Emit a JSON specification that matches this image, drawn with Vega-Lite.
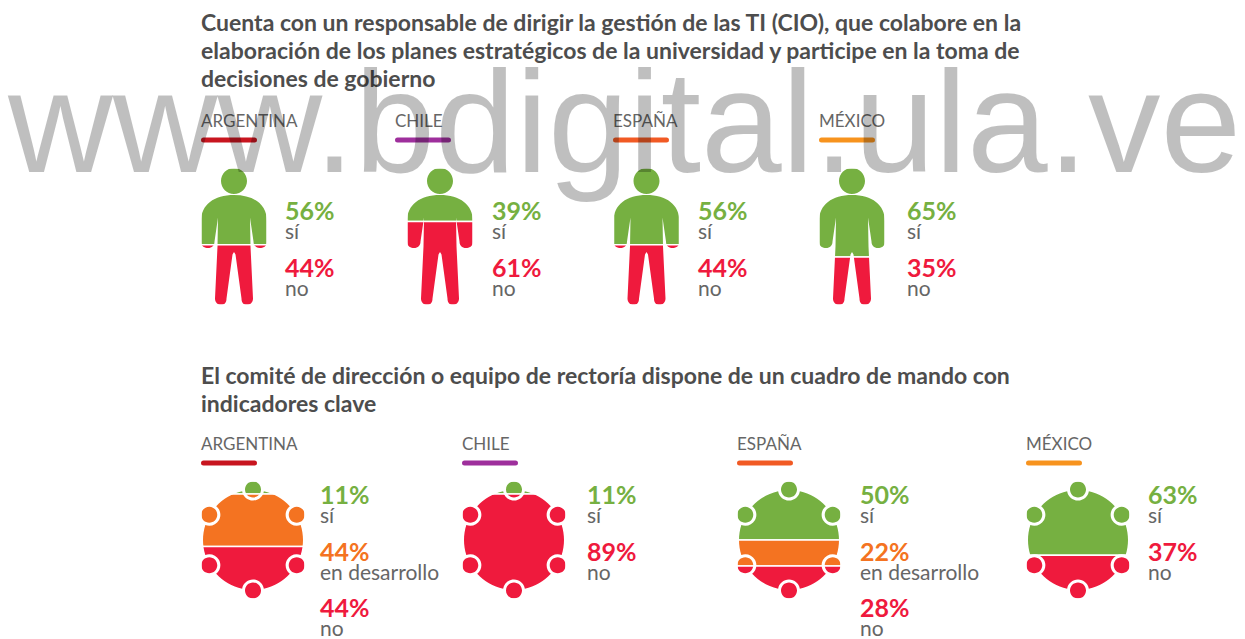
{
"$schema":"https://vega.github.io/schema/vega-lite/v6.json",
"padding":{"left":8,"top":13,"right":0,"bottom":0},
"background":"white",
"title":{"text":"www.bdigital.ula.ve","font":"Liberation Sans","fontSize":145,"fontWeight":"normal","color":"rgba(0,0,0,0.25)","anchor":"start","frame":"group","dx":-193,"dy":189,"offset":0},
"config":{"view":{"stroke":null},"font":"Lato","title":{"font":"Lato"},"concat":{"spacing":0}},
"datasets":{"d":[
{"question":"q1","country":"ARGENTINA","answer":"sí","rank":1,"value":0.56},
{"question":"q1","country":"ARGENTINA","answer":"no","rank":3,"value":0.44},
{"question":"q1","country":"CHILE","answer":"sí","rank":1,"value":0.39},
{"question":"q1","country":"CHILE","answer":"no","rank":3,"value":0.61},
{"question":"q1","country":"ESPAÑA","answer":"sí","rank":1,"value":0.56},
{"question":"q1","country":"ESPAÑA","answer":"no","rank":3,"value":0.44},
{"question":"q1","country":"MÉXICO","answer":"sí","rank":1,"value":0.65},
{"question":"q1","country":"MÉXICO","answer":"no","rank":3,"value":0.35},
{"question":"q2","country":"ARGENTINA","answer":"sí","rank":1,"value":0.11},
{"question":"q2","country":"ARGENTINA","answer":"en desarrollo","rank":2,"value":0.44},
{"question":"q2","country":"ARGENTINA","answer":"no","rank":3,"value":0.44},
{"question":"q2","country":"CHILE","answer":"sí","rank":1,"value":0.11},
{"question":"q2","country":"CHILE","answer":"no","rank":3,"value":0.89},
{"question":"q2","country":"ESPAÑA","answer":"sí","rank":1,"value":0.50},
{"question":"q2","country":"ESPAÑA","answer":"en desarrollo","rank":2,"value":0.22},
{"question":"q2","country":"ESPAÑA","answer":"no","rank":3,"value":0.28},
{"question":"q2","country":"MÉXICO","answer":"sí","rank":1,"value":0.63},
{"question":"q2","country":"MÉXICO","answer":"no","rank":3,"value":0.37}
]},
"data":{"name":"d"},
"spacing":59,
"vconcat":[
{"title":{"text":["Cuenta con un responsable de dirigir la gestión de las TI (CIO), que colabore en la","elaboración de los planes estratégicos de la universidad y participe en la toma de","decisiones de gobierno"],"font":"Lato","fontSize":23,"fontWeight":"bold","color":"#4d4d4d","lineHeight":28,"anchor":"start","frame":"group","offset":14},
"spacing":0,
"hconcat":[
{"width":194,"height":200,"transform":[{"filter":"datum.question=='q1'&&datum.country=='ARGENTINA'"}],"resolve":{"scale":{"x":"independent","y":"independent"}},"layer":[
{"layer":[
{"mark":{"type":"bar","size":66,"stroke":"white","strokeWidth":1.5},"encoding":{"x":{"datum":"figure","type":"nominal","axis":null,"scale":{"type":"point","domain":["figure"],"range":[33,33]}},"y":{"field":"value","type":"quantitative","stack":"normalize","axis":null,"scale":{"domain":[0,1],"range":[62,199]}},"order":{"field":"rank"},"color":{"field":"answer","legend":null,"scale":{"domain":["sí","en desarrollo","no"],"range":["#76b041","#f47321","#ef1a3d"]}}}},
{"transform":[{"filter":"datum.rank==1"}],"mark":{"type":"point","filled":true,"opacity":1,"size":4,"color":"white","strokeWidth":0,"shape":"M-33.5,-70H33.5V70H-33.5Z M-13,-55.5A13,13 0 1 0 13,-55.5A13,13 0 1 0 -13,-55.5Z M0,-41.5C-20,-41.5 -33,-32 -33,-15L-33,5C-33,10 -29,11.5 -26,11.5C-22,11.5 -19.5,9 -19.5,5L-16,-19L-16.5,10L-19,62C-19,66 -16,68.5 -13,68.5C-9.5,68.5 -7.5,66 -7.5,62L-1.5,18L0,15.5L1.5,18L7.5,62C7.5,66 9.5,68.5 13,68.5C16,68.5 19,66 19,62L16.5,10L16,-19L19.5,5C19.5,9 22,11.5 26,11.5C29,11.5 33,10 33,5L33,-15C33,-32 20,-41.5 0,-41.5Z"},"encoding":{"x":{"datum":"figure","type":"nominal"},"y":{"datum":0.5,"type":"quantitative"}}}
]},
{"layer":[
{"mark":{"type":"text","align":"left","fontSize":25,"fontWeight":"bold"},"encoding":{"x":{"datum":"label","type":"nominal","axis":null,"scale":{"type":"point","domain":["label"],"range":[84,84]}},"y":{"field":"answer","type":"nominal","axis":null,"scale":{"type":"point","domain":["sí","no"],"range":[106,163],"padding":0}},"text":{"field":"value","format":".0%"},"color":{"field":"answer","legend":null,"scale":{"domain":["sí","en desarrollo","no"],"range":["#76b041","#f47321","#ef1a3d"]}}}},
{"mark":{"type":"text","align":"left","fontSize":21,"dy":21,"color":"#666666"},"encoding":{"x":{"datum":"label","type":"nominal"},"y":{"field":"answer","type":"nominal"},"text":{"field":"answer"}}}
]},
{"transform":[{"filter":"datum.rank==1"}],"layer":[
{"mark":{"type":"text","align":"left","fontSize":17,"color":"#666666"},"encoding":{"x":{"datum":0,"type":"quantitative","axis":null,"scale":{"domain":[0,1],"range":[0,56]}},"y":{"datum":"header","type":"nominal","axis":null,"scale":{"type":"point","domain":["header","rule"],"range":[16,34],"padding":0}},"text":{"field":"country"}}},
{"mark":{"type":"rule","strokeWidth":5,"strokeCap":"round","color":"#c8151f"},"encoding":{"x":{"datum":0.045,"type":"quantitative"},"x2":{"datum":0.955},"y":{"datum":"rule","type":"nominal"}}}
]}
]},
{"width":217,"height":200,"transform":[{"filter":"datum.question=='q1'&&datum.country=='CHILE'"}],"resolve":{"scale":{"x":"independent","y":"independent"}},"layer":[
{"layer":[
{"mark":{"type":"bar","size":66,"stroke":"white","strokeWidth":1.5},"encoding":{"x":{"datum":"figure","type":"nominal","axis":null,"scale":{"type":"point","domain":["figure"],"range":[45,45]}},"y":{"field":"value","type":"quantitative","stack":"normalize","axis":null,"scale":{"domain":[0,1],"range":[62,199]}},"order":{"field":"rank"},"color":{"field":"answer","legend":null,"scale":{"domain":["sí","en desarrollo","no"],"range":["#76b041","#f47321","#ef1a3d"]}}}},
{"transform":[{"filter":"datum.rank==1"}],"mark":{"type":"point","filled":true,"opacity":1,"size":4,"color":"white","strokeWidth":0,"shape":"M-33.5,-70H33.5V70H-33.5Z M-13,-55.5A13,13 0 1 0 13,-55.5A13,13 0 1 0 -13,-55.5Z M0,-41.5C-20,-41.5 -33,-32 -33,-15L-33,5C-33,10 -29,11.5 -26,11.5C-22,11.5 -19.5,9 -19.5,5L-16,-19L-16.5,10L-19,62C-19,66 -16,68.5 -13,68.5C-9.5,68.5 -7.5,66 -7.5,62L-1.5,18L0,15.5L1.5,18L7.5,62C7.5,66 9.5,68.5 13,68.5C16,68.5 19,66 19,62L16.5,10L16,-19L19.5,5C19.5,9 22,11.5 26,11.5C29,11.5 33,10 33,5L33,-15C33,-32 20,-41.5 0,-41.5Z"},"encoding":{"x":{"datum":"figure","type":"nominal"},"y":{"datum":0.5,"type":"quantitative"}}}
]},
{"layer":[
{"mark":{"type":"text","align":"left","fontSize":25,"fontWeight":"bold"},"encoding":{"x":{"datum":"label","type":"nominal","axis":null,"scale":{"type":"point","domain":["label"],"range":[97,97]}},"y":{"field":"answer","type":"nominal","axis":null,"scale":{"type":"point","domain":["sí","no"],"range":[106,163],"padding":0}},"text":{"field":"value","format":".0%"},"color":{"field":"answer","legend":null,"scale":{"domain":["sí","en desarrollo","no"],"range":["#76b041","#f47321","#ef1a3d"]}}}},
{"mark":{"type":"text","align":"left","fontSize":21,"dy":21,"color":"#666666"},"encoding":{"x":{"datum":"label","type":"nominal"},"y":{"field":"answer","type":"nominal"},"text":{"field":"answer"}}}
]},
{"transform":[{"filter":"datum.rank==1"}],"layer":[
{"mark":{"type":"text","align":"left","fontSize":17,"color":"#666666"},"encoding":{"x":{"datum":0,"type":"quantitative","axis":null,"scale":{"domain":[0,1],"range":[0,56]}},"y":{"datum":"header","type":"nominal","axis":null,"scale":{"type":"point","domain":["header","rule"],"range":[16,34],"padding":0}},"text":{"field":"country"}}},
{"mark":{"type":"rule","strokeWidth":5,"strokeCap":"round","color":"#9e2f9c"},"encoding":{"x":{"datum":0.045,"type":"quantitative"},"x2":{"datum":0.955},"y":{"datum":"rule","type":"nominal"}}}
]}
]},
{"width":205,"height":200,"transform":[{"filter":"datum.question=='q1'&&datum.country=='ESPAÑA'"}],"resolve":{"scale":{"x":"independent","y":"independent"}},"layer":[
{"layer":[
{"mark":{"type":"bar","size":66,"stroke":"white","strokeWidth":1.5},"encoding":{"x":{"datum":"figure","type":"nominal","axis":null,"scale":{"type":"point","domain":["figure"],"range":[33.5,33.5]}},"y":{"field":"value","type":"quantitative","stack":"normalize","axis":null,"scale":{"domain":[0,1],"range":[62,199]}},"order":{"field":"rank"},"color":{"field":"answer","legend":null,"scale":{"domain":["sí","en desarrollo","no"],"range":["#76b041","#f47321","#ef1a3d"]}}}},
{"transform":[{"filter":"datum.rank==1"}],"mark":{"type":"point","filled":true,"opacity":1,"size":4,"color":"white","strokeWidth":0,"shape":"M-33.5,-70H33.5V70H-33.5Z M-13,-55.5A13,13 0 1 0 13,-55.5A13,13 0 1 0 -13,-55.5Z M0,-41.5C-20,-41.5 -33,-32 -33,-15L-33,5C-33,10 -29,11.5 -26,11.5C-22,11.5 -19.5,9 -19.5,5L-16,-19L-16.5,10L-19,62C-19,66 -16,68.5 -13,68.5C-9.5,68.5 -7.5,66 -7.5,62L-1.5,18L0,15.5L1.5,18L7.5,62C7.5,66 9.5,68.5 13,68.5C16,68.5 19,66 19,62L16.5,10L16,-19L19.5,5C19.5,9 22,11.5 26,11.5C29,11.5 33,10 33,5L33,-15C33,-32 20,-41.5 0,-41.5Z"},"encoding":{"x":{"datum":"figure","type":"nominal"},"y":{"datum":0.5,"type":"quantitative"}}}
]},
{"layer":[
{"mark":{"type":"text","align":"left","fontSize":25,"fontWeight":"bold"},"encoding":{"x":{"datum":"label","type":"nominal","axis":null,"scale":{"type":"point","domain":["label"],"range":[85,85]}},"y":{"field":"answer","type":"nominal","axis":null,"scale":{"type":"point","domain":["sí","no"],"range":[106,163],"padding":0}},"text":{"field":"value","format":".0%"},"color":{"field":"answer","legend":null,"scale":{"domain":["sí","en desarrollo","no"],"range":["#76b041","#f47321","#ef1a3d"]}}}},
{"mark":{"type":"text","align":"left","fontSize":21,"dy":21,"color":"#666666"},"encoding":{"x":{"datum":"label","type":"nominal"},"y":{"field":"answer","type":"nominal"},"text":{"field":"answer"}}}
]},
{"transform":[{"filter":"datum.rank==1"}],"layer":[
{"mark":{"type":"text","align":"left","fontSize":17,"color":"#666666"},"encoding":{"x":{"datum":0,"type":"quantitative","axis":null,"scale":{"domain":[0,1],"range":[0,56]}},"y":{"datum":"header","type":"nominal","axis":null,"scale":{"type":"point","domain":["header","rule"],"range":[16,34],"padding":0}},"text":{"field":"country"}}},
{"mark":{"type":"rule","strokeWidth":5,"strokeCap":"round","color":"#f15a24"},"encoding":{"x":{"datum":0.045,"type":"quantitative"},"x2":{"datum":0.955},"y":{"datum":"rule","type":"nominal"}}}
]}
]},
{"width":170,"height":200,"transform":[{"filter":"datum.question=='q1'&&datum.country=='MÉXICO'"}],"resolve":{"scale":{"x":"independent","y":"independent"}},"layer":[
{"layer":[
{"mark":{"type":"bar","size":66,"stroke":"white","strokeWidth":1.5},"encoding":{"x":{"datum":"figure","type":"nominal","axis":null,"scale":{"type":"point","domain":["figure"],"range":[33,33]}},"y":{"field":"value","type":"quantitative","stack":"normalize","axis":null,"scale":{"domain":[0,1],"range":[62,199]}},"order":{"field":"rank"},"color":{"field":"answer","legend":null,"scale":{"domain":["sí","en desarrollo","no"],"range":["#76b041","#f47321","#ef1a3d"]}}}},
{"transform":[{"filter":"datum.rank==1"}],"mark":{"type":"point","filled":true,"opacity":1,"size":4,"color":"white","strokeWidth":0,"shape":"M-33.5,-70H33.5V70H-33.5Z M-13,-55.5A13,13 0 1 0 13,-55.5A13,13 0 1 0 -13,-55.5Z M0,-41.5C-20,-41.5 -33,-32 -33,-15L-33,5C-33,10 -29,11.5 -26,11.5C-22,11.5 -19.5,9 -19.5,5L-16,-19L-16.5,10L-19,62C-19,66 -16,68.5 -13,68.5C-9.5,68.5 -7.5,66 -7.5,62L-1.5,18L0,15.5L1.5,18L7.5,62C7.5,66 9.5,68.5 13,68.5C16,68.5 19,66 19,62L16.5,10L16,-19L19.5,5C19.5,9 22,11.5 26,11.5C29,11.5 33,10 33,5L33,-15C33,-32 20,-41.5 0,-41.5Z"},"encoding":{"x":{"datum":"figure","type":"nominal"},"y":{"datum":0.5,"type":"quantitative"}}}
]},
{"layer":[
{"mark":{"type":"text","align":"left","fontSize":25,"fontWeight":"bold"},"encoding":{"x":{"datum":"label","type":"nominal","axis":null,"scale":{"type":"point","domain":["label"],"range":[88,88]}},"y":{"field":"answer","type":"nominal","axis":null,"scale":{"type":"point","domain":["sí","no"],"range":[106,163],"padding":0}},"text":{"field":"value","format":".0%"},"color":{"field":"answer","legend":null,"scale":{"domain":["sí","en desarrollo","no"],"range":["#76b041","#f47321","#ef1a3d"]}}}},
{"mark":{"type":"text","align":"left","fontSize":21,"dy":21,"color":"#666666"},"encoding":{"x":{"datum":"label","type":"nominal"},"y":{"field":"answer","type":"nominal"},"text":{"field":"answer"}}}
]},
{"transform":[{"filter":"datum.rank==1"}],"layer":[
{"mark":{"type":"text","align":"left","fontSize":17,"color":"#666666"},"encoding":{"x":{"datum":0,"type":"quantitative","axis":null,"scale":{"domain":[0,1],"range":[0,56]}},"y":{"datum":"header","type":"nominal","axis":null,"scale":{"type":"point","domain":["header","rule"],"range":[16,34],"padding":0}},"text":{"field":"country"}}},
{"mark":{"type":"rule","strokeWidth":5,"strokeCap":"round","color":"#f7931e"},"encoding":{"x":{"datum":0.045,"type":"quantitative"},"x2":{"datum":0.955},"y":{"datum":"rule","type":"nominal"}}}
]}
]}
]},
{"title":{"text":["El comité de dirección o equipo de rectoría dispone de un cuadro de mando con","indicadores clave"],"font":"Lato","fontSize":23,"fontWeight":"bold","color":"#4d4d4d","lineHeight":28,"anchor":"start","frame":"group","offset":14},
"spacing":0,
"hconcat":[
{"width":260,"height":204,"transform":[{"filter":"datum.question=='q2'&&datum.country=='ARGENTINA'"}],"resolve":{"scale":{"x":"independent","y":"independent"}},"layer":[
{"layer":[
{"mark":{"type":"bar","size":104,"stroke":"white","strokeWidth":1.5},"encoding":{"x":{"datum":"figure","type":"nominal","axis":null,"scale":{"type":"point","domain":["figure"],"range":[52,52]}},"y":{"field":"value","type":"quantitative","stack":"normalize","axis":null,"scale":{"domain":[0,1],"range":[50,168]}},"order":{"field":"rank"},"color":{"field":"answer","legend":null,"scale":{"domain":["sí","en desarrollo","no"],"range":["#76b041","#f47321","#ef1a3d"]}}}},
{"transform":[{"filter":"datum.rank==1"}],"mark":{"type":"point","filled":true,"opacity":1,"size":4,"color":"white","strokeWidth":0,"shape":"M-52.5,-61H52.5V61H-52.5Z M-10.87,-48.8A50,50 0 0 0 -36.81,-33.83A11,11 0 0 1 -47.7,-14.98A50,50 0 0 0 -47.7,14.98A11,11 0 0 1 -36.81,33.83A50,50 0 0 0 -10.87,48.8A11,11 0 0 1 10.87,48.8A50,50 0 0 0 36.81,33.83A11,11 0 0 1 47.7,14.98A50,50 0 0 0 47.7,-14.98A11,11 0 0 1 36.81,-33.83A50,50 0 0 0 10.87,-48.8A11,11 0 0 1 -10.87,-48.8Z M-8,-50.5A8,8 0 1 0 8,-50.5A8,8 0 1 0 -8,-50.5Z M-51.73,-25.25A8,8 0 1 0 -35.73,-25.25A8,8 0 1 0 -51.73,-25.25Z M-51.73,25.25A8,8 0 1 0 -35.73,25.25A8,8 0 1 0 -51.73,25.25Z M-8,50.5A8,8 0 1 0 8,50.5A8,8 0 1 0 -8,50.5Z M35.73,25.25A8,8 0 1 0 51.73,25.25A8,8 0 1 0 35.73,25.25Z M35.73,-25.25A8,8 0 1 0 51.73,-25.25A8,8 0 1 0 35.73,-25.25Z"},"encoding":{"x":{"datum":"figure","type":"nominal"},"y":{"datum":0.5,"type":"quantitative"}}}
]},
{"layer":[
{"mark":{"type":"text","align":"left","fontSize":25,"fontWeight":"bold"},"encoding":{"x":{"datum":"label","type":"nominal","axis":null,"scale":{"type":"point","domain":["label"],"range":[119,119]}},"y":{"field":"answer","type":"nominal","axis":null,"scale":{"type":"point","domain":["sí","en desarrollo","no"],"range":[65,178],"padding":0}},"text":{"field":"value","format":".0%"},"color":{"field":"answer","legend":null,"scale":{"domain":["sí","en desarrollo","no"],"range":["#76b041","#f47321","#ef1a3d"]}}}},
{"mark":{"type":"text","align":"left","fontSize":21,"dy":21,"color":"#666666"},"encoding":{"x":{"datum":"label","type":"nominal"},"y":{"field":"answer","type":"nominal"},"text":{"field":"answer"}}}
]},
{"transform":[{"filter":"datum.rank==1"}],"layer":[
{"mark":{"type":"text","align":"left","fontSize":17,"color":"#666666"},"encoding":{"x":{"datum":0,"type":"quantitative","axis":null,"scale":{"domain":[0,1],"range":[0,56]}},"y":{"datum":"header","type":"nominal","axis":null,"scale":{"type":"point","domain":["header","rule"],"range":[14,32],"padding":0}},"text":{"field":"country"}}},
{"mark":{"type":"rule","strokeWidth":5,"strokeCap":"round","color":"#c8151f"},"encoding":{"x":{"datum":0.045,"type":"quantitative"},"x2":{"datum":0.955},"y":{"datum":"rule","type":"nominal"}}}
]}
]},
{"width":274,"height":204,"transform":[{"filter":"datum.question=='q2'&&datum.country=='CHILE'"}],"resolve":{"scale":{"x":"independent","y":"independent"}},"layer":[
{"layer":[
{"mark":{"type":"bar","size":104,"stroke":"white","strokeWidth":1.5},"encoding":{"x":{"datum":"figure","type":"nominal","axis":null,"scale":{"type":"point","domain":["figure"],"range":[52,52]}},"y":{"field":"value","type":"quantitative","stack":"normalize","axis":null,"scale":{"domain":[0,1],"range":[50,168]}},"order":{"field":"rank"},"color":{"field":"answer","legend":null,"scale":{"domain":["sí","en desarrollo","no"],"range":["#76b041","#f47321","#ef1a3d"]}}}},
{"transform":[{"filter":"datum.rank==1"}],"mark":{"type":"point","filled":true,"opacity":1,"size":4,"color":"white","strokeWidth":0,"shape":"M-52.5,-61H52.5V61H-52.5Z M-10.87,-48.8A50,50 0 0 0 -36.81,-33.83A11,11 0 0 1 -47.7,-14.98A50,50 0 0 0 -47.7,14.98A11,11 0 0 1 -36.81,33.83A50,50 0 0 0 -10.87,48.8A11,11 0 0 1 10.87,48.8A50,50 0 0 0 36.81,33.83A11,11 0 0 1 47.7,14.98A50,50 0 0 0 47.7,-14.98A11,11 0 0 1 36.81,-33.83A50,50 0 0 0 10.87,-48.8A11,11 0 0 1 -10.87,-48.8Z M-8,-50.5A8,8 0 1 0 8,-50.5A8,8 0 1 0 -8,-50.5Z M-51.73,-25.25A8,8 0 1 0 -35.73,-25.25A8,8 0 1 0 -51.73,-25.25Z M-51.73,25.25A8,8 0 1 0 -35.73,25.25A8,8 0 1 0 -51.73,25.25Z M-8,50.5A8,8 0 1 0 8,50.5A8,8 0 1 0 -8,50.5Z M35.73,25.25A8,8 0 1 0 51.73,25.25A8,8 0 1 0 35.73,25.25Z M35.73,-25.25A8,8 0 1 0 51.73,-25.25A8,8 0 1 0 35.73,-25.25Z"},"encoding":{"x":{"datum":"figure","type":"nominal"},"y":{"datum":0.5,"type":"quantitative"}}}
]},
{"layer":[
{"mark":{"type":"text","align":"left","fontSize":25,"fontWeight":"bold"},"encoding":{"x":{"datum":"label","type":"nominal","axis":null,"scale":{"type":"point","domain":["label"],"range":[125,125]}},"y":{"field":"answer","type":"nominal","axis":null,"scale":{"type":"point","domain":["sí","no"],"range":[65,122],"padding":0}},"text":{"field":"value","format":".0%"},"color":{"field":"answer","legend":null,"scale":{"domain":["sí","en desarrollo","no"],"range":["#76b041","#f47321","#ef1a3d"]}}}},
{"mark":{"type":"text","align":"left","fontSize":21,"dy":21,"color":"#666666"},"encoding":{"x":{"datum":"label","type":"nominal"},"y":{"field":"answer","type":"nominal"},"text":{"field":"answer"}}}
]},
{"transform":[{"filter":"datum.rank==1"}],"layer":[
{"mark":{"type":"text","align":"left","fontSize":17,"color":"#666666"},"encoding":{"x":{"datum":0,"type":"quantitative","axis":null,"scale":{"domain":[0,1],"range":[0,56]}},"y":{"datum":"header","type":"nominal","axis":null,"scale":{"type":"point","domain":["header","rule"],"range":[14,32],"padding":0}},"text":{"field":"country"}}},
{"mark":{"type":"rule","strokeWidth":5,"strokeCap":"round","color":"#9e2f9c"},"encoding":{"x":{"datum":0.045,"type":"quantitative"},"x2":{"datum":0.955},"y":{"datum":"rule","type":"nominal"}}}
]}
]},
{"width":288,"height":204,"transform":[{"filter":"datum.question=='q2'&&datum.country=='ESPAÑA'"}],"resolve":{"scale":{"x":"independent","y":"independent"}},"layer":[
{"layer":[
{"mark":{"type":"bar","size":104,"stroke":"white","strokeWidth":1.5},"encoding":{"x":{"datum":"figure","type":"nominal","axis":null,"scale":{"type":"point","domain":["figure"],"range":[52,52]}},"y":{"field":"value","type":"quantitative","stack":"normalize","axis":null,"scale":{"domain":[0,1],"range":[50,168]}},"order":{"field":"rank"},"color":{"field":"answer","legend":null,"scale":{"domain":["sí","en desarrollo","no"],"range":["#76b041","#f47321","#ef1a3d"]}}}},
{"transform":[{"filter":"datum.rank==1"}],"mark":{"type":"point","filled":true,"opacity":1,"size":4,"color":"white","strokeWidth":0,"shape":"M-52.5,-61H52.5V61H-52.5Z M-10.87,-48.8A50,50 0 0 0 -36.81,-33.83A11,11 0 0 1 -47.7,-14.98A50,50 0 0 0 -47.7,14.98A11,11 0 0 1 -36.81,33.83A50,50 0 0 0 -10.87,48.8A11,11 0 0 1 10.87,48.8A50,50 0 0 0 36.81,33.83A11,11 0 0 1 47.7,14.98A50,50 0 0 0 47.7,-14.98A11,11 0 0 1 36.81,-33.83A50,50 0 0 0 10.87,-48.8A11,11 0 0 1 -10.87,-48.8Z M-8,-50.5A8,8 0 1 0 8,-50.5A8,8 0 1 0 -8,-50.5Z M-51.73,-25.25A8,8 0 1 0 -35.73,-25.25A8,8 0 1 0 -51.73,-25.25Z M-51.73,25.25A8,8 0 1 0 -35.73,25.25A8,8 0 1 0 -51.73,25.25Z M-8,50.5A8,8 0 1 0 8,50.5A8,8 0 1 0 -8,50.5Z M35.73,25.25A8,8 0 1 0 51.73,25.25A8,8 0 1 0 35.73,25.25Z M35.73,-25.25A8,8 0 1 0 51.73,-25.25A8,8 0 1 0 35.73,-25.25Z"},"encoding":{"x":{"datum":"figure","type":"nominal"},"y":{"datum":0.5,"type":"quantitative"}}}
]},
{"layer":[
{"mark":{"type":"text","align":"left","fontSize":25,"fontWeight":"bold"},"encoding":{"x":{"datum":"label","type":"nominal","axis":null,"scale":{"type":"point","domain":["label"],"range":[123,123]}},"y":{"field":"answer","type":"nominal","axis":null,"scale":{"type":"point","domain":["sí","en desarrollo","no"],"range":[65,178],"padding":0}},"text":{"field":"value","format":".0%"},"color":{"field":"answer","legend":null,"scale":{"domain":["sí","en desarrollo","no"],"range":["#76b041","#f47321","#ef1a3d"]}}}},
{"mark":{"type":"text","align":"left","fontSize":21,"dy":21,"color":"#666666"},"encoding":{"x":{"datum":"label","type":"nominal"},"y":{"field":"answer","type":"nominal"},"text":{"field":"answer"}}}
]},
{"transform":[{"filter":"datum.rank==1"}],"layer":[
{"mark":{"type":"text","align":"left","fontSize":17,"color":"#666666"},"encoding":{"x":{"datum":0,"type":"quantitative","axis":null,"scale":{"domain":[0,1],"range":[0,56]}},"y":{"datum":"header","type":"nominal","axis":null,"scale":{"type":"point","domain":["header","rule"],"range":[14,32],"padding":0}},"text":{"field":"country"}}},
{"mark":{"type":"rule","strokeWidth":5,"strokeCap":"round","color":"#f15a24"},"encoding":{"x":{"datum":0.045,"type":"quantitative"},"x2":{"datum":0.955},"y":{"datum":"rule","type":"nominal"}}}
]}
]},
{"width":180,"height":204,"transform":[{"filter":"datum.question=='q2'&&datum.country=='MÉXICO'"}],"resolve":{"scale":{"x":"independent","y":"independent"}},"layer":[
{"layer":[
{"mark":{"type":"bar","size":104,"stroke":"white","strokeWidth":1.5},"encoding":{"x":{"datum":"figure","type":"nominal","axis":null,"scale":{"type":"point","domain":["figure"],"range":[52,52]}},"y":{"field":"value","type":"quantitative","stack":"normalize","axis":null,"scale":{"domain":[0,1],"range":[50,168]}},"order":{"field":"rank"},"color":{"field":"answer","legend":null,"scale":{"domain":["sí","en desarrollo","no"],"range":["#76b041","#f47321","#ef1a3d"]}}}},
{"transform":[{"filter":"datum.rank==1"}],"mark":{"type":"point","filled":true,"opacity":1,"size":4,"color":"white","strokeWidth":0,"shape":"M-52.5,-61H52.5V61H-52.5Z M-10.87,-48.8A50,50 0 0 0 -36.81,-33.83A11,11 0 0 1 -47.7,-14.98A50,50 0 0 0 -47.7,14.98A11,11 0 0 1 -36.81,33.83A50,50 0 0 0 -10.87,48.8A11,11 0 0 1 10.87,48.8A50,50 0 0 0 36.81,33.83A11,11 0 0 1 47.7,14.98A50,50 0 0 0 47.7,-14.98A11,11 0 0 1 36.81,-33.83A50,50 0 0 0 10.87,-48.8A11,11 0 0 1 -10.87,-48.8Z M-8,-50.5A8,8 0 1 0 8,-50.5A8,8 0 1 0 -8,-50.5Z M-51.73,-25.25A8,8 0 1 0 -35.73,-25.25A8,8 0 1 0 -51.73,-25.25Z M-51.73,25.25A8,8 0 1 0 -35.73,25.25A8,8 0 1 0 -51.73,25.25Z M-8,50.5A8,8 0 1 0 8,50.5A8,8 0 1 0 -8,50.5Z M35.73,25.25A8,8 0 1 0 51.73,25.25A8,8 0 1 0 35.73,25.25Z M35.73,-25.25A8,8 0 1 0 51.73,-25.25A8,8 0 1 0 35.73,-25.25Z"},"encoding":{"x":{"datum":"figure","type":"nominal"},"y":{"datum":0.5,"type":"quantitative"}}}
]},
{"layer":[
{"mark":{"type":"text","align":"left","fontSize":25,"fontWeight":"bold"},"encoding":{"x":{"datum":"label","type":"nominal","axis":null,"scale":{"type":"point","domain":["label"],"range":[122,122]}},"y":{"field":"answer","type":"nominal","axis":null,"scale":{"type":"point","domain":["sí","no"],"range":[65,122],"padding":0}},"text":{"field":"value","format":".0%"},"color":{"field":"answer","legend":null,"scale":{"domain":["sí","en desarrollo","no"],"range":["#76b041","#f47321","#ef1a3d"]}}}},
{"mark":{"type":"text","align":"left","fontSize":21,"dy":21,"color":"#666666"},"encoding":{"x":{"datum":"label","type":"nominal"},"y":{"field":"answer","type":"nominal"},"text":{"field":"answer"}}}
]},
{"transform":[{"filter":"datum.rank==1"}],"layer":[
{"mark":{"type":"text","align":"left","fontSize":17,"color":"#666666"},"encoding":{"x":{"datum":0,"type":"quantitative","axis":null,"scale":{"domain":[0,1],"range":[0,56]}},"y":{"datum":"header","type":"nominal","axis":null,"scale":{"type":"point","domain":["header","rule"],"range":[14,32],"padding":0}},"text":{"field":"country"}}},
{"mark":{"type":"rule","strokeWidth":5,"strokeCap":"round","color":"#f7931e"},"encoding":{"x":{"datum":0.045,"type":"quantitative"},"x2":{"datum":0.955},"y":{"datum":"rule","type":"nominal"}}}
]}
]}
]}
]}
